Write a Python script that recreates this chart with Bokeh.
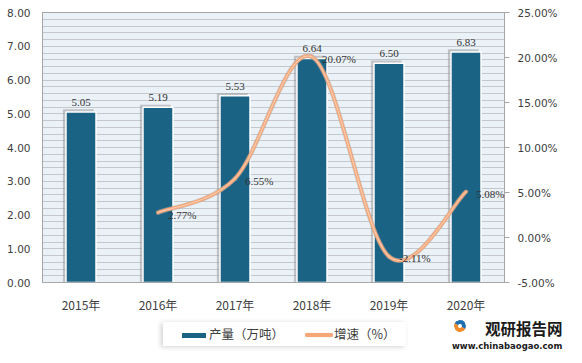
from bokeh.plotting import figure
from bokeh.layouts import column
from bokeh.models import (ColumnDataSource, Range1d, LinearAxis, FixedTicker, SingleIntervalTicker,
                          PrintfTickFormatter, LabelSet, Div)
from bokeh.transform import dodge
from bokeh.embed import file_html
from bokeh.resources import INLINE

years = ["2015年", "2016年", "2017年", "2018年", "2019年", "2020年"]
output = [5.05, 5.19, 5.53, 6.64, 6.50, 6.83]
growth_years_idx = [1, 2, 3, 4, 5]
growth = [2.77, 6.55, 20.07, -2.11, 5.08]
legend_labels = ["产量（万吨）", "增速（%）"]

FONT = "DejaVu Sans, Noto Sans CJK SC, sans-serif"
CJK = "Noto Sans CJK SC, sans-serif"
BAR = "#1B6385"
LINE = "#F6A677"

xs = list(range(len(years)))
bar_src = ColumnDataSource(dict(x=xs, top=output, lbl=["%.2f" % v for v in output]))

p = figure(frame_width=462, frame_height=270, output_backend="svg", toolbar_location=None,
           x_range=Range1d(-0.5, len(years) - 0.5), y_range=Range1d(0, 8),
           min_border_left=42, min_border_right=62, min_border_top=12, min_border_bottom=32)
p.extra_y_ranges = {"pct": Range1d(-5, 25)}

p.background_fill_color = "#EAF1F7"
p.border_fill_color = "white"
p.outline_line_color = "#A6A6A6"
p.outline_line_width = 1

# grid
p.xgrid.visible = False
p.ygrid.ticker = SingleIntervalTicker(interval=0.2, num_minor_ticks=0)
p.ygrid.grid_line_color = "#C4C8CC"
p.ygrid.grid_line_width = 1

# axes
xa = p.xaxis[0]
xa.ticker = FixedTicker(ticks=xs)
xa.major_label_overrides = {i: y for i, y in enumerate(years)}
xa.major_tick_line_color = None
xa.major_tick_out = 0
xa.minor_tick_line_color = None
xa.axis_line_color = "#A6A6A6"
xa.major_label_standoff = 13
xa.major_label_text_font = CJK
xa.major_label_text_font_size = "12px"
xa.major_label_text_color = "#404040"

ya = p.yaxis[0]
ya.ticker = SingleIntervalTicker(interval=1, num_minor_ticks=0)
ya.formatter = PrintfTickFormatter(format="%.2f")
ya.major_tick_line_color = None
ya.major_tick_out = 0
ya.minor_tick_line_color = None
ya.axis_line_color = "#A6A6A6"
ya.major_label_standoff = 12
ya.major_label_text_font = FONT
ya.major_label_text_font_size = "10.5px"
ya.major_label_text_color = "#404040"

ra = LinearAxis(y_range_name="pct", ticker=SingleIntervalTicker(interval=5, num_minor_ticks=0),
                formatter=PrintfTickFormatter(format="%.2f%%"))
ra.major_tick_out = 5
ra.major_tick_in = 0
ra.major_tick_line_color = "#A6A6A6"
ra.minor_tick_line_color = None
ra.axis_line_color = "#A6A6A6"
ra.major_label_standoff = 8
ra.major_label_text_font = FONT
ra.major_label_text_font_size = "10.5px"
ra.major_label_text_color = "#404040"
p.add_layout(ra, "right")

# bar shadows
p.vbar(x=dodge("x", -0.035), top=dodge("top", 0.08), width=0.4, bottom=0, source=bar_src,
       fill_color="#8C8C8C", fill_alpha=0.45, line_color=None)
bars = p.vbar(x="x", top="top", width=0.39, bottom=0, source=bar_src,
              fill_color=BAR, line_color="white", line_width=1.5)

p.add_layout(LabelSet(x="x", y="top", text="lbl", source=bar_src, y_offset=6,
                      text_align="center", text_baseline="bottom",
                      text_font=FONT, text_font_size="11px", text_color="#333333"))

# smooth growth line (Catmull-Rom style bezier through the data points)
gx = [float(i) for i in growth_years_idx]
gy = growth
n = len(gx)
x0, y0, x1, y1, cx0, cy0, cx1, cy1 = [], [], [], [], [], [], [], []
for i in range(n - 1):
    pxm, pym = (gx[i - 1], gy[i - 1]) if i > 0 else (gx[i], gy[i])
    pxp, pyp = (gx[i + 2], gy[i + 2]) if i + 2 < n else (gx[i + 1], gy[i + 1])
    x0.append(gx[i]); y0.append(gy[i]); x1.append(gx[i + 1]); y1.append(gy[i + 1])
    cx0.append(gx[i] + (gx[i + 1] - pxm) / 6); cy0.append(gy[i] + (gy[i + 1] - pym) / 6)
    cx1.append(gx[i + 1] - (pxp - gx[i]) / 6); cy1.append(gy[i + 1] - (pyp - gy[i]) / 6)
bz = ColumnDataSource(dict(x0=x0, y0=y0, x1=x1, y1=y1, cx0=cx0, cy0=cy0, cx1=cx1, cy1=cy1))
bzkw = dict(x0="x0", y0="y0", x1="x1", y1="y1", cx0="cx0", cy0="cy0", cx1="cx1", cy1="cy1",
            source=bz, y_range_name="pct", line_cap="round")
p.bezier(line_color="#B9A79C", line_width=4.5, line_alpha=0.6, **bzkw)
p.bezier(line_color=LINE, line_width=3.2, **bzkw)
p.bezier(line_color="#FBD6C0", line_width=0.9, **bzkw)

g_src = ColumnDataSource(dict(x=gx, y=gy, lbl=["%.2f%%" % v for v in gy]))
p.add_layout(LabelSet(x="x", y="y", text="lbl", source=g_src, y_range_name="pct",
                      x_offset=10, y_offset=-2, text_align="left", text_baseline="middle",
                      text_font=FONT, text_font_size="11px", text_color="#333333"))

# ---- bottom strip: legend + watermark (HTML) ----
abs_ = "position:absolute;"
lab = "font-family:'Noto Sans CJK SC',sans-serif;font-size:12.5px;color:#404040;line-height:18px;white-space:nowrap;"
html = (
    '<div style="position:relative;width:566px;height:33px;overflow:visible;">'
    f'<div style="{abs_}left:158px;top:2px;width:243px;height:24px;background:#fff;'
    'box-shadow:-2px 1px 5px rgba(0,0,0,0.18);"></div>'
    f'<div style="{abs_}left:177px;top:13px;width:24px;height:5px;background:{BAR};"></div>'
    f'<div style="{abs_}left:204px;top:5px;{lab}">{legend_labels[0]}</div>'
    f'<div style="{abs_}left:300px;top:13px;width:28px;height:4px;background:{LINE};border-radius:2px;'
    'box-shadow:0 0 1px #D8B8A5;"></div>'
    f'<div style="{abs_}left:329px;top:5px;{lab}">{legend_labels[1]}</div>'
    f'<div style="{abs_}left:449px;top:0px;width:12px;height:12px;border-radius:50%;border:4px solid;'
    'border-color:#1E6FB0 #1E6FB0 #F08C2E #F08C2E;transform:rotate(-20deg);"></div>'
    f'<div style="{abs_}left:480px;top:0px;font-family:\'Noto Sans CJK SC\',sans-serif;font-weight:bold;'
    'font-size:15.5px;line-height:16px;height:16px;color:#1a1a1a;white-space:nowrap;">观研报告网</div>'
    f'<div style="{abs_}left:447px;top:21px;font-family:\'DejaVu Sans\',sans-serif;font-weight:bold;'
    'font-size:8.5px;line-height:10px;height:10px;color:#1a1a1a;white-space:nowrap;">www.chinabaogao.com</div>'
    '</div>'
)
strip = Div(text=html, width=566, height=33)

layout = column(p, strip, spacing=0)
open("out.html", "w").write(file_html(layout, INLINE))
